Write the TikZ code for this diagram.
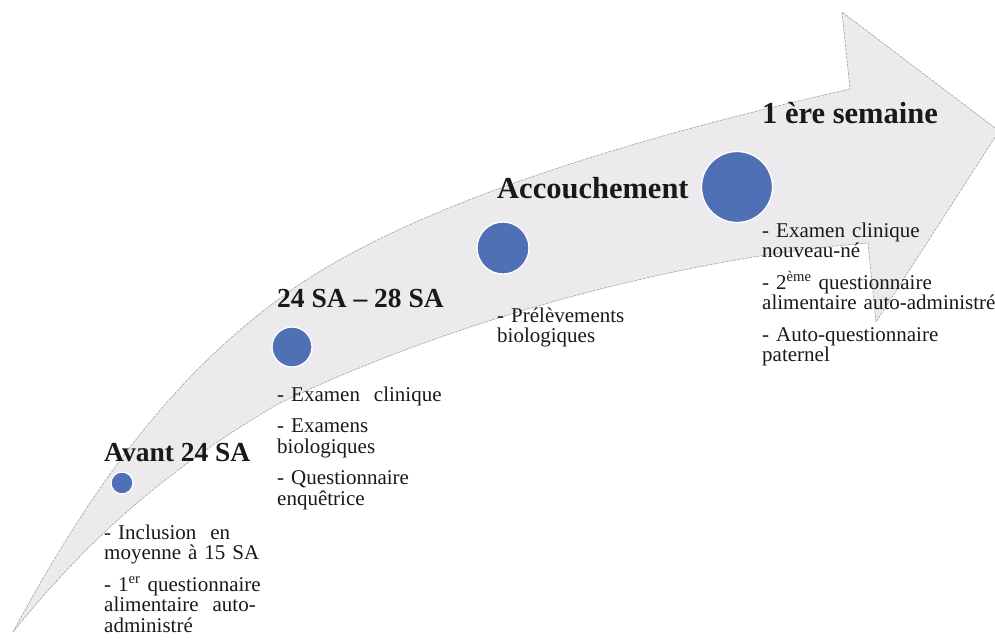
\documentclass[tikz,border=0pt]{standalone}
\usepackage{fontspec}
\setmainfont{Liberation Serif}
\definecolor{arrowgray}{RGB}{236,234,236}
\definecolor{edgegray}{RGB}{165,165,165}
\definecolor{dotblue}{RGB}{80,112,181}
\definecolor{ink}{RGB}{25,25,25}
\tikzset{
  arrowbody/.style={fill=arrowgray, draw=edgegray, line width=0.6pt, dash pattern=on 3pt off 1pt},
  dot/.style={circle, fill=dotblue, draw=white, line width=1.3pt, inner sep=0pt},
  headsmall/.style={anchor=base west, inner sep=0pt, text=ink, font=\fontsize{27.5}{27.5}\selectfont\bfseries},
  headbig/.style={anchor=base west, inner sep=0pt, text=ink, font=\fontsize{30.5}{30.5}\selectfont\bfseries},
  body/.style={anchor=base west, inner sep=0pt, text=ink, align=left, text width=300pt, font=\fontsize{21}{20.5}\selectfont}
}
\begin{document}
\begin{tikzpicture}[x=1pt,y=-1pt]
\useasboundingbox (0,0) rectangle (995,640);
% curved arrow
\path[arrowbody] (13,632) .. controls (90,490) and (170,377) .. (287,293)
  .. controls (417,200) and (655,133) .. (850,89)
  -- (842,12) -- (999,131) -- (876,322) -- (868,243)
  .. controls (700,256) and (470,312) .. (280,403)
  .. controls (178,462) and (95,530) .. (13,632) -- cycle;
% dots
\node[dot, minimum size=22pt] (c1) at (122,483) {};
\node[dot, minimum size=40pt] (c2) at (292,347) {};
\node[dot, minimum size=52pt] (c3) at (503,248) {};
\node[dot, minimum size=71pt] (c4) at (737,187) {};
% headers
\node[headsmall] (h1) at (104,461) {Avant 24 SA};
\node[headsmall] (h2) at (277,307) {24 SA – 28 SA};
\node[headbig] (h3) at (497,198) {Accouchement};
\node[headbig] (h4) at (762,123) {1 ère semaine};
% bodies
\node[body] (b1) at (104,539) {- Inclusion\ \ en\\moyenne à 15 SA\\[11pt]- 1\textsuperscript{er} questionnaire\\alimentaire\ \ auto-\\administré};
\node[body] (b2) at (277,401) {- Examen\ \ clinique\\[11pt]- Examens\\biologiques\\[11pt]- Questionnaire\\enquêtrice};
\node[body] (b3) at (497,322) {- Prélèvements\\biologiques};
\node[body] (b4) at (762,237) {- Examen\ clinique\\nouveau-né\\[11pt]- 2\textsuperscript{ème} questionnaire\\alimentaire auto-administré\\[11pt]- Auto-questionnaire\\paternel};
\end{tikzpicture}
\end{document}
